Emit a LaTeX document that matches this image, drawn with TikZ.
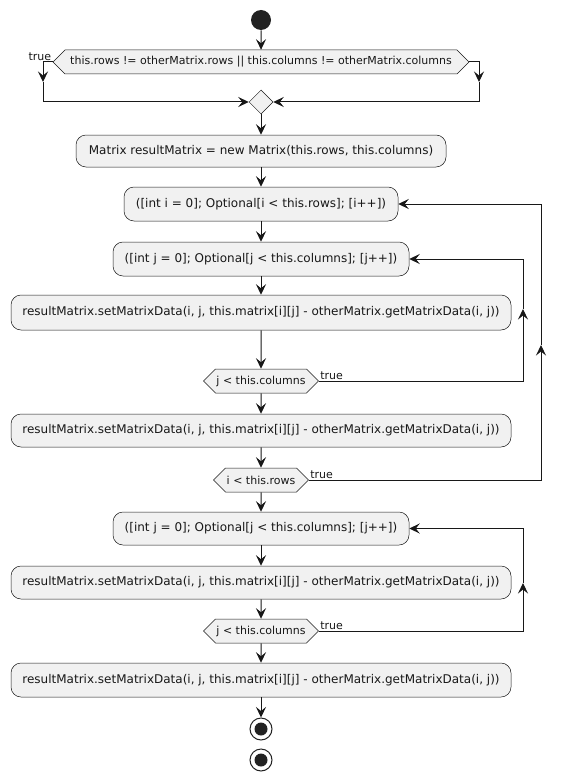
\documentclass[tikz,border=0pt]{standalone}
\usepackage{fontspec}
\setmainfont{DejaVu Sans}
\usetikzlibrary{arrows.meta,shapes.geometric,shapes.symbols}
\definecolor{boxfill}{HTML}{F1F1F1}
\definecolor{ink}{HTML}{181818}
\definecolor{dot}{HTML}{222222}
\begin{document}
\begin{tikzpicture}[x=1pt, y=1pt, ->, >={Stealth[length=10.5pt,width=10pt,inset=4pt]}, line width=1pt, color=ink,
  act/.style={draw=ink, line width=0.5pt, fill=boxfill, rounded corners=10pt, minimum height=33pt, inner sep=0pt, font=\fontsize{12}{14}\selectfont},
  cond/.style={shape=signal, signal to=west and east, draw=ink, line width=0.5pt, fill=boxfill, minimum height=24pt, inner xsep=0pt, inner ysep=0pt, font=\fontsize{11}{13}\selectfont},
  lbl/.style={font=\fontsize{11}{13}\selectfont, inner sep=1pt},
  startdot/.style={circle, fill=dot, minimum size=20pt, inner sep=0pt},
  stopdot/.style={circle, draw=dot, line width=1pt, fill=white, minimum size=22pt, inner sep=0pt, path picture={\fill[dot] (path picture bounding box.center) circle (6.5pt);}},
  merge/.style={diamond, draw=ink, line width=0.5pt, fill=boxfill, minimum width=24pt, minimum height=24pt, inner sep=0pt}]
\useasboundingbox (0,0) rectangle (565,-781);
\node[startdot] (start) at (261,-20) {};
\node[cond, minimum width=416pt] (c0) at (261,-62) {this.rows != otherMatrix.rows || this.columns != otherMatrix.columns};
\node[lbl, anchor=south east] (t0) at (c0.west) {true};
\node[merge] (m0) at (261,-102) {};
\node[act, minimum width=370pt, minimum height=32pt] (init) at (261,-151) {Matrix resultMatrix = new Matrix(this.rows, this.columns)};
\node[act, minimum width=274pt, minimum height=34pt] (loopi) at (261,-204) {([int i = 0]; Optional[i < this.rows]; [i++])};
\node[act, minimum width=296pt, minimum height=34pt] (loopj) at (261,-259) {([int j = 0]; Optional[j < this.columns]; [j++])};
\node[act, minimum width=500pt, minimum height=35pt] (set1) at (261,-312.5) {resultMatrix.setMatrixData(i, j, this.matrix[i][j] - otherMatrix.getMatrixData(i, j))};
\node[cond, minimum width=115pt] (cj) at (261,-381) {j < this.columns};
\node[lbl, anchor=south west] (tj) at (cj.east) {true};
\node[act, minimum width=500pt] (set2) at (261,-430.5) {resultMatrix.setMatrixData(i, j, this.matrix[i][j] - otherMatrix.getMatrixData(i, j))};
\node[cond, minimum width=95pt] (ci) at (261,-480) {i < this.rows};
\node[lbl, anchor=south west] (ti) at (ci.east) {true};
\node[act, minimum width=296pt] (loopk) at (261,-528.5) {([int j = 0]; Optional[j < this.columns]; [j++])};
\node[act, minimum width=500pt] (set3) at (261,-582.5) {resultMatrix.setMatrixData(i, j, this.matrix[i][j] - otherMatrix.getMatrixData(i, j))};
\node[cond, minimum width=115pt] (ck) at (261,-631) {j < this.columns};
\node[lbl, anchor=south west] (tk) at (ck.east) {true};
\node[act, minimum width=500pt, minimum height=34pt] (set4) at (261,-680) {resultMatrix.setMatrixData(i, j, this.matrix[i][j] - otherMatrix.getMatrixData(i, j))};
\node[stopdot] (stop1) at (261,-729) {};
\node[stopdot] (stop2) at (261,-760) {};
\coordinate (l0) at (43,-82);
\coordinate (r0) at (479,-82);
\coordinate (uj) at (523,-309);
\coordinate (ui) at (541,-345);
\coordinate (uk) at (523,-583);
\draw (start) -- (c0);
\draw (c0.west) -| (l0);
\draw (l0) |- (m0.west);
\draw (c0.east) -| (r0);
\draw (r0) |- (m0.east);
\draw (m0) -- (init);
\draw (init) -- (loopi);
\draw (loopi) -- (loopj);
\draw (loopj) -- (set1);
\draw (set1) -- (cj);
\draw (cj.east) -| (uj);
\draw (uj) |- (loopj.east);
\draw (cj) -- (set2);
\draw (set2) -- (ci);
\draw (ci.east) -| (ui);
\draw (ui) |- (loopi.east);
\draw (ci) -- (loopk);
\draw (loopk) -- (set3);
\draw (set3) -- (ck);
\draw (ck.east) -| (uk);
\draw (uk) |- (loopk.east);
\draw (ck) -- (set4);
\draw (set4) -- (stop1);
\end{tikzpicture}
\end{document}
